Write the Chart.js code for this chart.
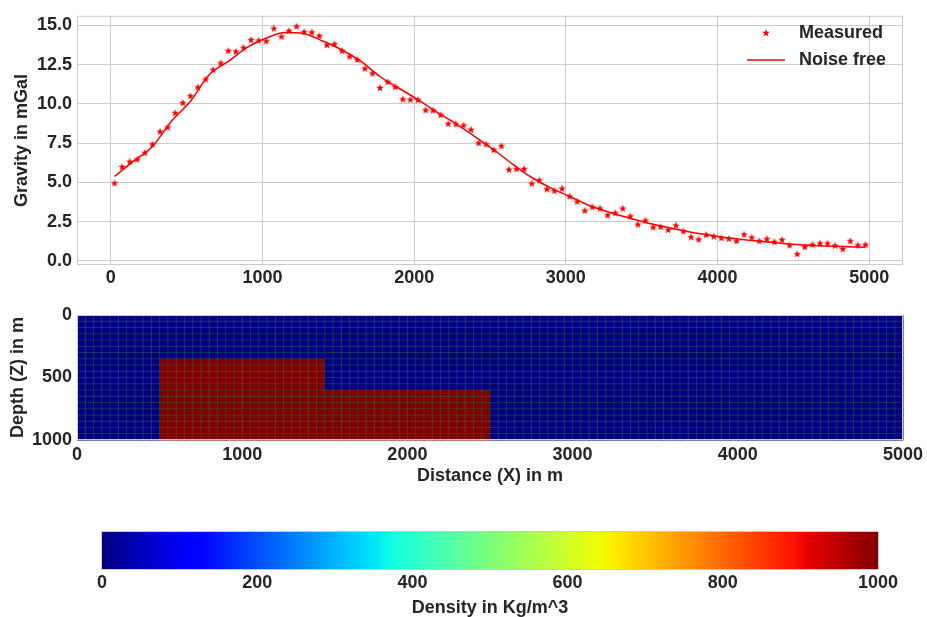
<!DOCTYPE html>
<html>
<head>
<meta charset="utf-8">
<script src="https://cdn.jsdelivr.net/npm/chart.js@4.4.1/dist/chart.umd.min.js"></script>
<style>
body { margin: 0; background: #fff; width: 927px; height: 617px; overflow: hidden; position: relative; }
canvas { position: absolute; left: 0; }
#gravityChart { top: 0; }
#modelChart { top: 295px; }
#colorbar { top: 495px; }
</style>
</head>
<body>
<canvas id="gravityChart" width="927" height="295"></canvas>
<canvas id="modelChart" width="927" height="200"></canvas>
<canvas id="colorbar" width="927" height="122"></canvas>
<script>
// DATA
const stations = [
    25, 75, 125, 175, 225, 275, 325, 375, 425, 475,
    525, 575, 625, 675, 725, 775, 825, 875, 925, 975,
    1025, 1075, 1125, 1175, 1225, 1275, 1325, 1375, 1425, 1475,
    1525, 1575, 1625, 1675, 1725, 1775, 1825, 1875, 1925, 1975,
    2025, 2075, 2125, 2175, 2225, 2275, 2325, 2375, 2425, 2475,
    2525, 2575, 2625, 2675, 2725, 2775, 2825, 2875, 2925, 2975,
    3025, 3075, 3125, 3175, 3225, 3275, 3325, 3375, 3425, 3475,
    3525, 3575, 3625, 3675, 3725, 3775, 3825, 3875, 3925, 3975,
    4025, 4075, 4125, 4175, 4225, 4275, 4325, 4375, 4425, 4475,
    4525, 4575, 4625, 4675, 4725, 4775, 4825, 4875, 4925, 4975
];
const measured = [
    4.94, 5.98, 6.31, 6.46, 6.88, 7.42, 8.23, 8.50, 9.42, 10.06,
    10.5, 11.06, 11.56, 12.17, 12.6, 13.38, 13.33, 13.58, 14.08, 14.04,
    14.0, 14.81, 14.29, 14.65, 14.94, 14.58, 14.56, 14.33, 13.75, 13.81,
    13.38, 13.02, 12.81, 12.25, 11.94, 11.02, 11.4, 11.08, 10.29, 10.27,
    10.25, 9.6, 9.58, 9.29, 8.73, 8.71, 8.63, 8.35, 7.5, 7.42,
    7.06, 7.31, 5.81, 5.85, 5.85, 4.92, 5.13, 4.56, 4.46, 4.6,
    4.10, 3.77, 3.19, 3.42, 3.33, 2.90, 3.04, 3.33, 2.83, 2.31,
    2.56, 2.13, 2.15, 1.96, 2.25, 1.88, 1.5, 1.35, 1.65, 1.54,
    1.44, 1.40, 1.25, 1.67, 1.48, 1.25, 1.38, 1.19, 1.33, 0.98,
    0.42, 0.88, 1.02, 1.10, 1.10, 0.96, 0.75, 1.25, 0.98, 1.02
];
const noiseFreeX = [25, 150, 275, 400, 525, 650, 775, 900, 1025, 1150, 1275, 1400, 1525, 1650, 1775,
    1900, 2025, 2150, 2275, 2400, 2525, 2650, 2775, 2900, 3025, 3150, 3275, 3400, 3525, 3650, 3775,
    4025, 4275, 4525, 4775, 4975];
const noiseFree = [5.38, 6.35, 7.29, 8.9, 10.17, 11.88, 12.71, 13.6, 14.2, 14.55, 14.48, 14.0, 13.44, 12.71, 11.75,
    11.0, 10.27, 9.48, 8.75, 7.92, 7.08, 6.15, 5.31, 4.65, 4.10, 3.54, 3.13, 2.77, 2.44, 2.17, 1.92,
    1.52, 1.25, 1.04, 0.92, 0.86];
const gravityXTicks = [0, 1000, 2000, 3000, 4000, 5000];
const gravityYTicks = [0, 2.5, 5, 7.5, 10, 12.5, 15];

// density model: background 0, two prisms
const cellSize = 50;
const modelWidth = 5000;
const modelDepth = 1000;
const bodyX0 = [500, 1500];
const bodyX1 = [1500, 2500];
const bodyZ0 = [350, 600];
const bodyZ1 = [1000, 1000];
const bodyDensity = [1000, 1000];
const backgroundDensity = 0;
const modelXTicks = [0, 1000, 2000, 3000, 4000, 5000];
const modelZTicks = [0, 500, 1000];

const densityMin = 0;
const densityMax = 1000;
const colorbarTicks = [0, 200, 400, 600, 800, 1000];

// build cells
const cells = [];
for (let x = 0; x < modelWidth; x += cellSize) {
    for (let z = 0; z < modelDepth; z += cellSize) {
        let rho = backgroundDensity;
        const cx = x + cellSize / 2, cz = z + cellSize / 2;
        bodyX0.forEach((x0, k) => {
            if (cx > x0 && cx < bodyX1[k] && cz > bodyZ0[k] && cz < bodyZ1[k]) rho = bodyDensity[k];
        });
        cells.push({ x: cx, y: cz, v: rho });
    }
}

// jet colormap (matplotlib)
function interp(stops, t) {
    for (let i = 1; i < stops.length; i++) {
        if (t <= stops[i][0]) {
            const [t0, v0] = stops[i - 1], [t1, v1] = stops[i];
            return v0 + (v1 - v0) * (t - t0) / (t1 - t0);
        }
    }
    return stops[stops.length - 1][1];
}
function jet(t) {
    t = Math.max(0, Math.min(1, t));
    const r = interp([[0, 0], [0.35, 0], [0.66, 1], [0.89, 1], [1, 0.5]], t);
    const g = interp([[0, 0], [0.125, 0], [0.375, 1], [0.64, 1], [0.91, 0], [1, 0]], t);
    const b = interp([[0, 0.5], [0.11, 1], [0.34, 1], [0.65, 0], [1, 0]], t);
    return `rgb(${Math.round(r * 255)},${Math.round(g * 255)},${Math.round(b * 255)})`;
}

// star marker
function starImage(r, color) {
    const c = document.createElement("canvas");
    const s = Math.ceil(r * 2 + 2);
    c.width = c.height = s;
    const g = c.getContext("2d");
    g.fillStyle = color;
    g.beginPath();
    for (let k = 0; k < 10; k++) {
        const rad = k % 2 ? r * 0.42 : r;
        const a = -Math.PI / 2 + k * Math.PI / 5;
        g.lineTo(s / 2 + rad * Math.cos(a), s / 2 + rad * Math.sin(a));
    }
    g.closePath();
    g.fill();
    return c;
}
const star = starImage(4, "#ff0000");

Chart.defaults.font.family = "'Liberation Sans', Arial, sans-serif";
Chart.defaults.font.size = 18;
Chart.defaults.font.weight = "bold";
Chart.defaults.color = "#262626";
Chart.defaults.animation = false;
Chart.defaults.plugins.legend.display = false;
Chart.defaults.plugins.tooltip.enabled = false;

const plain = v => String(v);

// frame around plot area
const frame = {
    id: "frame",
    beforeDatasetsDraw(chart) {
        const a = chart.chartArea, ctx = chart.ctx;
        ctx.save();
        ctx.strokeStyle = "#cccccc";
        ctx.lineWidth = 1;
        ctx.strokeRect(a.left + 0.5, a.top + 0.5, a.right - a.left - 1, a.bottom - a.top - 1);
        ctx.restore();
    }
};

// legend drawn inside plot (upper right)
const innerLegend = {
    id: "innerLegend",
    afterDraw(chart) {
        const ctx = chart.ctx;
        const ds = chart.data.datasets;
        ctx.save();
        ctx.font = "bold 18px 'Liberation Sans', Arial, sans-serif";
        ctx.fillStyle = "#262626";
        ctx.textBaseline = "middle";
        ctx.textAlign = "left";
        ctx.drawImage(star, 766 - star.width / 2, 33 - star.height / 2);
        ctx.fillText(ds[0].label, 799, 33);
        ctx.strokeStyle = ds[1].borderColor;
        ctx.lineWidth = 1.5;
        ctx.beginPath();
        ctx.moveTo(747, 60);
        ctx.lineTo(785, 60);
        ctx.stroke();
        ctx.fillText(ds[1].label, 799, 60);
        ctx.restore();
    }
};

// TOP: gravity
new Chart(document.getElementById("gravityChart"), {
    type: "scatter",
    data: {
        datasets: [{
            label: "Measured",
            data: stations.map((x, i) => ({ x: x, y: measured[i] })),
            pointStyle: star,
            showLine: false
        }, {
            label: "Noise free",
            type: "line",
            data: noiseFreeX.map((x, i) => ({ x: x, y: noiseFree[i] })),
            borderColor: "#ff0000",
            borderWidth: 1.5,
            pointRadius: 0,
            cubicInterpolationMode: "monotone"
        }]
    },
    options: {
        responsive: false,
        layout: { padding: { top: 10, right: 24, left: 0, bottom: 0 } },
        scales: {
            x: {
                type: "linear",
                min: -222.5,
                max: 5222.5,
                afterBuildTicks: s => { s.ticks = gravityXTicks.map(v => ({ value: v })); },
                afterFit: s => { s.height = 30; },
                grid: { color: "#cccccc", drawTicks: false },
                border: { display: false },
                ticks: { padding: 2, maxRotation: 0, callback: plain }
            },
            y: {
                min: -0.27,
                max: 15.62,
                afterBuildTicks: s => { s.ticks = gravityYTicks.map(v => ({ value: v })); },
                afterFit: s => { s.width = 77; },
                grid: { color: "#cccccc", drawTicks: false },
                border: { display: false },
                ticks: { padding: 5, callback: v => v.toFixed(1) },
                title: { display: true, text: "Gravity in mGal", padding: { top: 11, bottom: 0 } }
            }
        }
    },
    plugins: [frame, innerLegend]
});

// MIDDLE: density model
const cellPlot = {
    id: "cellPlot",
    beforeDatasetsDraw(chart) {
        const ctx = chart.ctx, xs = chart.scales.x, ys = chart.scales.y;
        const half = cellSize / 2;
        ctx.save();
        chart.data.datasets[0].data.forEach(c => {
            const x0 = xs.getPixelForValue(c.x - half), x1 = xs.getPixelForValue(c.x + half);
            const y0 = ys.getPixelForValue(c.y - half), y1 = ys.getPixelForValue(c.y + half);
            ctx.fillStyle = jet((c.v - densityMin) / (densityMax - densityMin));
            ctx.fillRect(x0, y0, x1 - x0 + 0.5, y1 - y0 + 0.5);
        });
        // cell edges
        ctx.strokeStyle = "rgba(40,110,70,0.55)";
        ctx.lineWidth = 0.8;
        ctx.beginPath();
        for (let x = cellSize; x < modelWidth; x += cellSize) {
            const px = xs.getPixelForValue(x);
            ctx.moveTo(px, ys.getPixelForValue(0));
            ctx.lineTo(px, ys.getPixelForValue(modelDepth));
        }
        for (let z = cellSize; z < modelDepth; z += cellSize) {
            const py = ys.getPixelForValue(z);
            ctx.moveTo(xs.getPixelForValue(0), py);
            ctx.lineTo(xs.getPixelForValue(modelWidth), py);
        }
        ctx.stroke();
        const a = chart.chartArea;
        ctx.strokeStyle = "#c8c8d8";
        ctx.lineWidth = 1;
        ctx.strokeRect(a.left + 0.5, a.top + 0.5, a.right - a.left - 1, a.bottom - a.top - 1);
        ctx.restore();
    }
};

new Chart(document.getElementById("modelChart"), {
    type: "scatter",
    data: { datasets: [{ label: "Density", data: cells, pointRadius: 0 }] },
    options: {
        responsive: false,
        layout: { padding: { top: 20, right: 24, left: 0, bottom: 0 } },
        scales: {
            x: {
                type: "linear",
                min: 0,
                max: modelWidth,
                afterBuildTicks: s => { s.ticks = modelXTicks.map(v => ({ value: v })); },
                afterFit: s => { s.height = 55; },
                grid: { display: false, drawTicks: false },
                border: { display: false },
                ticks: { padding: 4, maxRotation: 0, callback: plain },
                title: { display: true, text: "Distance (X) in m", padding: { top: 0, bottom: 8 } }
            },
            y: {
                min: 0,
                max: modelDepth,
                reverse: true,
                afterBuildTicks: s => { s.ticks = modelZTicks.map(v => ({ value: v })); },
                afterFit: s => { s.width = 77; },
                grid: { display: false, drawTicks: false },
                border: { display: false },
                ticks: { padding: 5, callback: plain },
                title: { display: true, text: "Depth (Z) in m", padding: { top: 7, bottom: 0 } }
            }
        }
    },
    plugins: [cellPlot]
});

// BOTTOM: colorbar
const colorRamp = {
    id: "colorRamp",
    beforeDatasetsDraw(chart) {
        const ctx = chart.ctx, xs = chart.scales.x, a = chart.chartArea;
        const x0 = xs.getPixelForValue(densityMin), x1 = xs.getPixelForValue(densityMax);
        const grad = ctx.createLinearGradient(x0, 0, x1, 0);
        for (let k = 0; k <= 100; k++) grad.addColorStop(k / 100, jet(k / 100));
        ctx.save();
        ctx.fillStyle = grad;
        ctx.fillRect(x0, a.top, x1 - x0, a.bottom - a.top);
        ctx.strokeStyle = "#cccccc";
        ctx.lineWidth = 1;
        ctx.strokeRect(x0 - 0.5, a.top - 0.5, x1 - x0 + 1, a.bottom - a.top + 1);
        ctx.restore();
    }
};

new Chart(document.getElementById("colorbar"), {
    type: "scatter",
    data: { datasets: [] },
    options: {
        responsive: false,
        layout: { padding: { top: 37, right: 49, left: 102, bottom: 0 } },
        scales: {
            x: {
                type: "linear",
                min: densityMin,
                max: densityMax,
                afterBuildTicks: s => { s.ticks = colorbarTicks.map(v => ({ value: v })); },
                afterFit: s => { s.height = 48; },
                grid: { display: false, drawTicks: false },
                border: { display: false },
                ticks: { padding: 3, maxRotation: 0, callback: plain },
                title: { display: true, text: "Density in Kg/m^3", padding: { top: 0, bottom: -2 } }
            },
            y: { display: false, min: 0, max: 1 }
        }
    },
    plugins: [colorRamp]
});
</script>
</body>
</html>
